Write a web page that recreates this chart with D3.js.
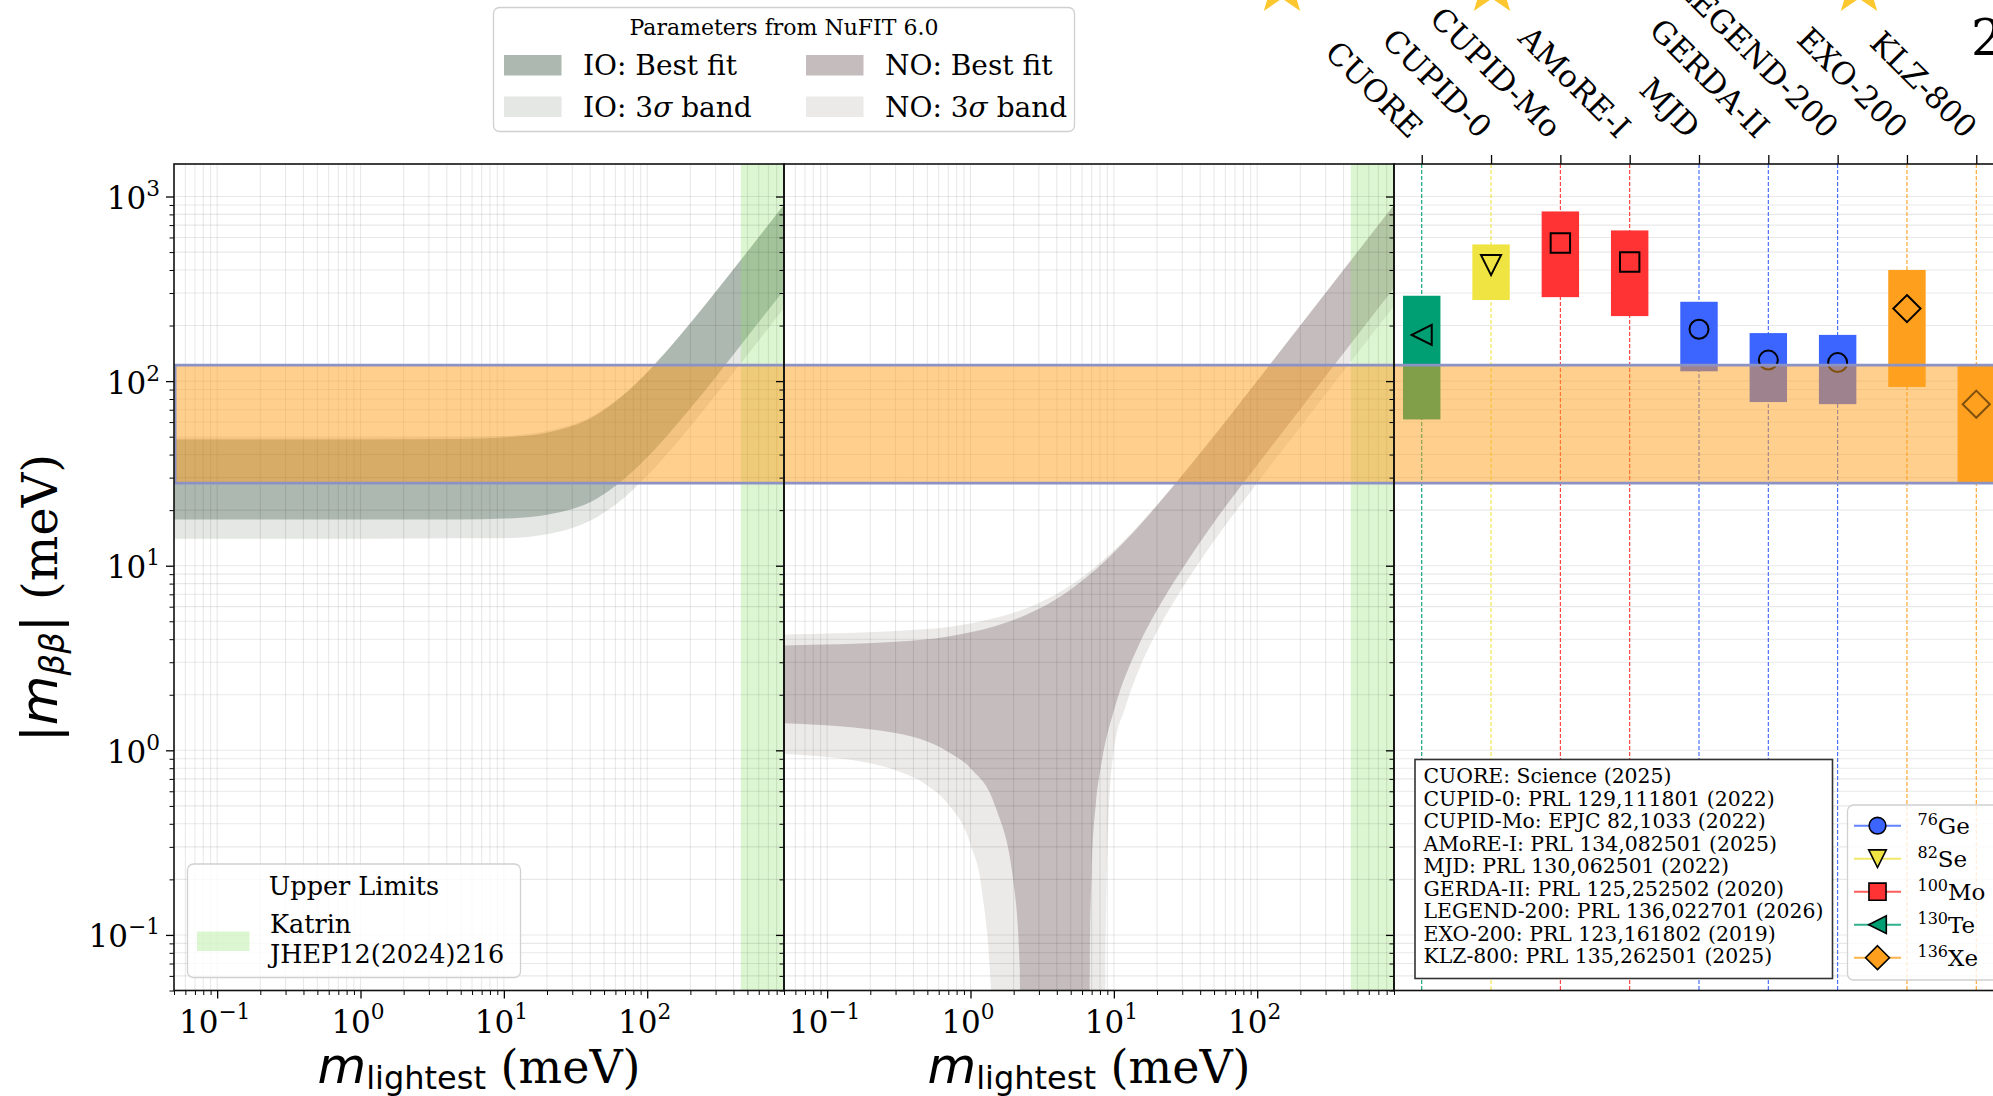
<!DOCTYPE html>
<html>
<head>
<meta charset="utf-8">
<script src="https://cdn.jsdelivr.net/npm/d3@7"></script>
<style>
  html, body { margin: 0; padding: 0; background: #fff; }
  svg { display: block; }
  text { font-family: "DejaVu Serif", serif; fill: #000; }
</style>
</head>
<body>
<svg id="chart" width="1993" height="1096"></svg>
<script>
// ---------------- data ----------------
// effective Majorana mass bands, [m_lightest (meV), |m_bb| (meV)]
const ioBestHigh = [[0.05,48.3],[1,48.3],[5,48.6],[10,49.5],[20,52.5],[30,57.1],[40,62.8],[50,69.8],[70,85.3],[100,111.3],[150,157.7],[200,205.9],[300,303.9],[500,502.4],[700,701.7],[900,901.3]];
const ioBestLow  = [[0.05,17.8],[1,17.8],[5,17.8],[10,18.0],[20,18.9],[30,20.3],[40,22.1],[50,24.5],[70,29.8],[100,38.7],[150,54.7],[200,71.3],[300,105],[500,174],[700,243],[900,312]];
const io3sHigh   = [[0.05,49.5],[1,49.5],[5,49.8],[10,50.5],[20,53.6],[30,58.2],[40,63.8],[50,70.8],[70,86.2],[100,112.2],[150,158.6],[200,206.8],[300,304.8],[500,503.2],[700,702.5],[900,902]];
const io3sLow    = [[0.05,14.0],[1,14.0],[5,14.1],[10,14.1],[20,14.8],[30,16.0],[40,17.5],[50,19.4],[70,23.6],[100,30.7],[150,43.6],[200,56.8],[300,83.9],[500,138.6],[700,193.6],[900,248.7]];

const noBestHigh = [[0.05,3.70],[0.3,3.87],[0.7,4.14],[1,4.36],[1.5,4.72],[2,5.08],[3,5.84],[5,7.44],[7,9.13],[10,11.8],[15,16.4],[20,21.2],[30,30.9],[50,50.4],[100,100.2],[200,200.1],[500,500.1],[900,900.1]];
const noBestLow  = [[0.05,1.40],[0.3,1.24],[0.7,0.98],[1,0.80],[1.5,0.49],[2,0.19],[2.2,0.07],[2.3,0.001],[6.6,0.001],[6.8,0.07],[7,0.22],[7.5,0.52],[8,0.76],[8.5,1.0],[10,1.64],[15,3.75],[20,5.75],[30,9.6],[50,17.2],[100,35.1],[200,70.7],[500,177],[900,319]];
const no3sHigh   = [[0.05,4.24],[0.5,4.54],[1,4.87],[2,5.56],[3,6.28],[5,7.83],[10,12.1],[20,21.4],[50,50.7],[100,100.4],[200,200.5],[500,500.3],[900,900.2]];
const no3sLow    = [[0.05,0.955],[0.1,0.92],[0.2,0.85],[0.3,0.78],[0.5,0.645],[0.7,0.51],[1,0.31],[1.2,0.175],[1.4,0.045],[1.45,0.001],[8.6,0.001],[8.75,0.06],[9.2,0.45],[10,1.0],[12,1.7],[15,2.75],[20,4.4],[30,7.55],[50,13.6],[100,28.1],[200,56.5],[500,141.7],[900,255]];

// KATRIN upper limit on the lightest mass (meV)
const katrinLimit = 450;
// KamLAND-Zen 800 range on |m_bb| (meV)
const klzRange = [28, 122];

// experimental limits on |m_bb| (meV)
const experiments = ["CUORE", "CUPID-0", "CUPID-Mo", "AMoRE-I", "MJD", "GERDA-II", "LEGEND-200", "EXO-200", "KLZ-800"];
const expIsotope  = ["Te", "Se", "Mo", "Mo", "Ge", "Ge", "Ge", "Xe", "Xe"];
const limitLow    = [62, 275, 285, 225, 113, 77, 75, 93, 28];
const limitHigh   = [290, 550, 830, 655, 269, 182, 178, 400, 122];
const limitMark   = [178, 425, 560, 442, 191, 130, 126, 247, 75];

const references = [
  "CUORE: Science (2025)",
  "CUPID-0: PRL 129,111801 (2022)",
  "CUPID-Mo: EPJC 82,1033 (2022)",
  "AMoRE-I: PRL 134,082501 (2025)",
  "MJD: PRL 130,062501 (2022)",
  "GERDA-II: PRL 125,252502 (2020)",
  "LEGEND-200: PRL 136,022701 (2026)",
  "EXO-200: PRL 123,161802 (2019)",
  "KLZ-800: PRL 135,262501 (2025)"
];

const isotopeKeys   = ["Ge", "Se", "Mo", "Te", "Xe"];
const isotopeMasses = ["76", "82", "100", "130", "136"];

// ---------------- styles ----------------
const isoColor = { Ge: "#3c64ff", Se: "#f0e442", Mo: "#ff3333", Te: "#009e73", Xe: "#fea01e" };
const isoShape = { Ge: "circle", Se: "down", Mo: "square", Te: "left", Xe: "diamond" };
const C = {
  ioBest: "#adb8b0", io3s: "#e5e7e4",
  noBest: "#c4bcbd", no3s: "#ebeae9",
  katrin: "#8ee26b", klz: "#ffa01e", klzEdge: "#8c93c4",
  grid: "#000"
};

// ---------------- geometry ----------------
const W = 1993, H = 1096;
const TOP = 164, BOTTOM = 990.5;
const panelX = [[174, 784], [784, 1394], [1394, 2004]];
const TICK_FONT = 31;

const y = d3.scaleLog().domain([0.05, 1500]).range([BOTTOM, TOP]);
const xIO = d3.scaleLog().domain([0.05, 900]).range(panelX[0]);
const xNO = d3.scaleLog().domain([0.05, 900]).range(panelX[1]);
const xExp = d3.scaleLinear().domain([-0.4, 8.4]).range(panelX[2]);

const svg = d3.select("#chart");
const defs = svg.append("defs");
panelX.forEach((p, i) => {
  defs.append("clipPath").attr("id", "clip" + i)
    .append("rect").attr("x", p[0]).attr("y", TOP).attr("width", p[1] - p[0]).attr("height", BOTTOM - TOP);
});

function logValues(lo, hi) {
  const out = [];
  for (let e = -3; e <= 4; e++) for (let k = 1; k <= 9; k++) {
    const v = +(k * Math.pow(10, e)).toPrecision(3);
    if (v >= lo * 0.9999 && v <= hi * 1.0001) out.push(v);
  }
  return out;
}
const isMajor = v => Math.abs(Math.log10(v) - Math.round(Math.log10(v))) < 1e-9;

const yAll = logValues(0.05, 1500);
const xAll = logValues(0.05, 900);

function bandPath(x, upper, lower) {
  const line = d3.line().x(d => x(d[0])).y(d => y(d[1])).curve(d3.curveMonotoneX);
  const up = line(upper);
  const lo = line(lower.slice().reverse());
  return up + "L" + lo.slice(1) + "Z";
}

// ---------------- mass panels ----------------
function massPanel(i, x, best, sig3) {
  const g = svg.append("g").attr("clip-path", `url(#clip${i})`);
  g.append("path").attr("d", bandPath(x, sig3[0], sig3[1])).attr("fill", sig3[2]);
  g.append("path").attr("d", bandPath(x, best[0], best[1])).attr("fill", best[2]);
  // KATRIN excluded region
  g.append("rect")
    .attr("x", x(katrinLimit)).attr("y", TOP)
    .attr("width", x.range()[1] - x(katrinLimit)).attr("height", BOTTOM - TOP)
    .attr("fill", C.katrin).attr("fill-opacity", 0.3);
  // grid
  g.selectAll(".gx").data(xAll).join("line")
    .attr("x1", d => x(d)).attr("x2", d => x(d)).attr("y1", TOP).attr("y2", BOTTOM)
    .attr("stroke", C.grid).attr("stroke-opacity", 0.09).attr("stroke-width", 1.1);
  g.selectAll(".gy").data(yAll).join("line")
    .attr("x1", x.range()[0]).attr("x2", x.range()[1]).attr("y1", d => y(d)).attr("y2", d => y(d))
    .attr("stroke", C.grid).attr("stroke-opacity", 0.09).attr("stroke-width", 1.1);
}
massPanel(0, xIO, [ioBestHigh, ioBestLow, C.ioBest], [io3sHigh, io3sLow, C.io3s]);
massPanel(1, xNO, [noBestHigh, noBestLow, C.noBest], [no3sHigh, no3sLow, C.no3s]);

// ---------------- experiment panel ----------------
function markerPath(shape, s) {
  switch (shape) {
    case "circle": return d3.symbol(d3.symbolCircle, Math.PI * s * s)();
    case "square": return `M${-s},${-s}H${s}V${s}H${-s}Z`;
    case "down": return `M${-s},${-s}L${s},${-s}L0,${s}Z`;
    case "left": return `M${-s},0L${s},${-s}L${s},${s}Z`;
    case "diamond": { const d = s * 1.414; return `M0,${-d}L${d},0L0,${d}L${-d},0Z`; }
  }
}
const markerSize = { circle: 9.5, square: 9.7, down: 10, left: 10, diamond: 9.6 };

const gE = svg.append("g").attr("clip-path", "url(#clip2)");
gE.selectAll(".gy").data(yAll).join("line")
  .attr("x1", panelX[2][0]).attr("x2", panelX[2][1]).attr("y1", d => y(d)).attr("y2", d => y(d))
  .attr("stroke", C.grid).attr("stroke-opacity", 0.09).attr("stroke-width", 1.1);
gE.selectAll(".vl").data(experiments).join("line")
  .attr("x1", (d, i) => xExp(i)).attr("x2", (d, i) => xExp(i)).attr("y1", TOP).attr("y2", BOTTOM)
  .attr("stroke", (d, i) => isoColor[expIsotope[i]]).attr("stroke-width", 1.1)
  .attr("stroke-dasharray", "4,2");
const BAR_W = 0.54;
gE.selectAll(".bar").data(experiments).join("rect")
  .attr("x", (d, i) => xExp(i - BAR_W / 2)).attr("width", xExp(BAR_W) - xExp(0))
  .attr("y", (d, i) => y(limitHigh[i])).attr("height", (d, i) => y(limitLow[i]) - y(limitHigh[i]))
  .attr("fill", (d, i) => isoColor[expIsotope[i]]);
gE.selectAll(".mk").data(experiments).join("path")
  .attr("transform", (d, i) => `translate(${xExp(i)},${y(limitMark[i])})`)
  .attr("d", (d, i) => { const sh = isoShape[expIsotope[i]]; return markerPath(sh, markerSize[sh]); })
  .attr("fill", "none").attr("stroke", "#000").attr("stroke-width", 2);

// ---------------- KamLAND-Zen band across all panels ----------------
const gK = svg.append("g");
panelX.forEach((p, i) => {
  gK.append("rect").attr("clip-path", `url(#clip${i})`)
    .attr("x", p[0]).attr("width", p[1] - p[0])
    .attr("y", y(klzRange[1])).attr("height", y(klzRange[0]) - y(klzRange[1]))
    .attr("fill", C.klz).attr("fill-opacity", 0.5);
});
[klzRange[0], klzRange[1]].forEach(v => {
  gK.append("line").attr("x1", 174).attr("x2", W).attr("y1", y(v)).attr("y2", y(v))
    .attr("stroke", C.klzEdge).attr("stroke-width", 2.6);
});
gK.append("line").attr("x1", 175.5).attr("x2", 175.5).attr("y1", y(klzRange[1])).attr("y2", y(klzRange[0]))
  .attr("stroke", C.klzEdge).attr("stroke-width", 2);

// ---------------- axes ----------------
function styleAxis(g) {
  g.select(".domain").remove();
  g.selectAll(".tick line").attr("stroke", "#000").attr("stroke-width", 1.3);
}
function supLabel(sel, fs) {
  sel.each(function (d) {
    const t = d3.select(this);
    const e = Math.round(Math.log10(d));
    t.text(null).attr("font-size", fs).attr("font-family", "DejaVu Serif");
    t.append("tspan").text("10");
    t.append("tspan").text(e < 0 ? "\u2212" + (-e) : String(e))
      .attr("font-size", fs * 0.7).attr("dy", -fs * 0.42);
  });
}
const yMajor = yAll.filter(isMajor), yMinor = yAll.filter(v => !isMajor(v));
const xMajor = xAll.filter(isMajor), xMinor = xAll.filter(v => !isMajor(v));

panelX.forEach((p, i) => {
  // minor y ticks
  svg.append("g").attr("transform", `translate(${p[0]},0)`)
    .call(d3.axisLeft(y).tickValues(yMinor).tickSize(4.5).tickFormat("")).call(styleAxis)
    .selectAll(".tick line").attr("stroke-width", 1);
  const gy = svg.append("g").attr("transform", `translate(${p[0]},0)`)
    .call(d3.axisLeft(y).tickValues(yMajor).tickSize(8).tickPadding(6)
      .tickFormat(i === 0 ? (d => d) : "")).call(styleAxis);
  if (i === 0) {
    gy.selectAll(".tick text").attr("dy", null).attr("y", 12).call(supLabel, TICK_FONT)
      .attr("text-anchor", "end");
  }
});
[xIO, xNO].forEach((x, i) => {
  svg.append("g").attr("transform", `translate(0,${BOTTOM})`)
    .call(d3.axisBottom(x).tickValues(xMinor).tickSize(4.5).tickFormat("")).call(styleAxis)
    .selectAll(".tick line").attr("stroke-width", 1);
  const gx = svg.append("g").attr("transform", `translate(0,${BOTTOM})`)
    .call(d3.axisBottom(x).tickValues(xMajor).tickSize(8).tickFormat(d => d)).call(styleAxis);
  gx.selectAll(".tick text").attr("dy", null).attr("y", 42).call(supLabel, TICK_FONT)
    .attr("text-anchor", "middle").attr("x", -3);
});
// experiment names on the top axis
const gTop = svg.append("g").attr("transform", `translate(0,${TOP})`)
  .call(d3.axisTop(xExp).tickValues(d3.range(experiments.length)).tickSize(9)
    .tickFormat(i => experiments[i])).call(styleAxis);
gTop.selectAll(".tick text")
  .attr("x", 0).attr("y", 0).attr("dy", null)
  .attr("text-anchor", "end").attr("font-size", 31).attr("font-family", "DejaVu Serif")
  .attr("transform", "translate(-13,-24) rotate(45)");

// spines
panelX.forEach(p => {
  svg.append("rect").attr("x", p[0]).attr("y", TOP).attr("width", p[1] - p[0]).attr("height", BOTTOM - TOP)
    .attr("fill", "none").attr("stroke", "#111").attr("stroke-width", 1.6);
});

// axis titles
function xTitle(cx) {
  const t = svg.append("text").attr("x", cx).attr("y", 1083).attr("text-anchor", "middle");
  t.append("tspan").text("m").attr("font-family", "DejaVu Sans").attr("font-style", "italic").attr("font-size", 50);
  t.append("tspan").text("lightest").attr("font-family", "DejaVu Sans").attr("font-size", 32).attr("dy", 6);
  t.append("tspan").text("\u00a0(meV)").attr("font-size", 46).attr("dy", -6);
}
xTitle((panelX[0][0] + panelX[0][1]) / 2);
xTitle((panelX[1][0] + panelX[1][1]) / 2);

const yt = svg.append("text").attr("transform", "translate(57,598) rotate(-90)").attr("text-anchor", "middle");
yt.append("tspan").text("|").attr("font-family", "DejaVu Sans").attr("font-size", 50);
yt.append("tspan").text("m").attr("font-family", "DejaVu Sans").attr("font-style", "italic").attr("font-size", 51);
yt.append("tspan").text("\u03b2\u03b2").attr("font-family", "DejaVu Sans").attr("font-style", "italic").attr("font-size", 34).attr("dy", 7);
yt.append("tspan").text("|").attr("font-family", "DejaVu Sans").attr("font-size", 50).attr("dy", -7);
yt.append("tspan").text("\u00a0(meV)").attr("font-size", 48);

// ---------------- legends ----------------
// NuFIT parameter bands
const lg = svg.append("g");
lg.append("rect").attr("x", 493.5).attr("y", 7.5).attr("width", 581).attr("height", 124).attr("rx", 6)
  .attr("fill", "#fff").attr("fill-opacity", 0.8).attr("stroke", "#d0d0d0").attr("stroke-width", 1.3);
lg.append("text").attr("x", 784).attr("y", 35).attr("text-anchor", "middle").attr("font-size", 22)
  .text("Parameters from NuFIT 6.0");
const nufitItems = [
  { label: "IO: Best fit", color: C.ioBest, col: 0, row: 0 },
  { label: "IO: 3\u03c3 band", color: C.io3s, col: 0, row: 1 },
  { label: "NO: Best fit", color: C.noBest, col: 1, row: 0 },
  { label: "NO: 3\u03c3 band", color: C.no3s, col: 1, row: 1 }
];
nufitItems.forEach(it => {
  const sx = it.col === 0 ? 504 : 806, tx = it.col === 0 ? 583 : 885;
  const sy = it.row === 0 ? 55 : 96.5;
  lg.append("rect").attr("x", sx).attr("y", sy).attr("width", 57.5).attr("height", 20.5).attr("fill", it.color);
  const t = lg.append("text").attr("x", tx).attr("y", sy + 20).attr("font-size", 28);
  const parts = it.label.split("\u03c3");
  t.append("tspan").text(parts[0]);
  if (parts.length > 1) {
    t.append("tspan").text("\u03c3").attr("font-family", "DejaVu Serif").attr("font-style", "italic");
    t.append("tspan").text(parts[1]);
  }
});

// upper limits legend
const lu = svg.append("g");
lu.append("rect").attr("x", 187.5).attr("y", 864).attr("width", 333).attr("height", 113.5).attr("rx", 6)
  .attr("fill", "#fff").attr("fill-opacity", 0.8).attr("stroke", "#d0d0d0").attr("stroke-width", 1.3);
lu.append("text").attr("x", 354).attr("y", 894.5).attr("text-anchor", "middle").attr("font-size", 25.5).text("Upper Limits");
lu.append("rect").attr("x", 197).attr("y", 931.5).attr("width", 52.5).attr("height", 19.5)
  .attr("fill", C.katrin).attr("fill-opacity", 0.3);
lu.append("text").attr("x", 270).attr("y", 932.5).attr("font-size", 25.5).text("Katrin");
lu.append("text").attr("x", 270).attr("y", 962.5).attr("font-size", 25.5).text("JHEP12(2024)216");

// references box
const rb = svg.append("g");
rb.append("rect").attr("x", 1415).attr("y", 759.5).attr("width", 417.5).attr("height", 219)
  .attr("fill", "#fff").attr("stroke", "#333").attr("stroke-width", 1.6);
rb.selectAll("text").data(references).join("text")
  .attr("x", 1423.5).attr("y", (d, i) => 783.3 + 22.5 * i).attr("font-size", 20.4).text(d => d);

// isotope legend
const li = svg.append("g");
li.append("rect").attr("x", 1847.5).attr("y", 805).attr("width", 170).attr("height", 175).attr("rx", 6)
  .attr("fill", "#fff").attr("fill-opacity", 0.8).attr("stroke", "#d0d0d0").attr("stroke-width", 1.3);
isotopeKeys.forEach((k, i) => {
  const cy = 825.7 + 33 * i;
  li.append("line").attr("x1", 1854).attr("x2", 1901).attr("y1", cy).attr("y2", cy)
    .attr("stroke", isoColor[k]).attr("stroke-width", 2).attr("stroke-opacity", 0.8);
  const sh = isoShape[k];
  li.append("path").attr("transform", `translate(1877.5,${cy})`).attr("d", markerPath(sh, markerSize[sh] * 0.88))
    .attr("fill", isoColor[k]).attr("stroke", "#000").attr("stroke-width", 1.6);
  const t = li.append("text").attr("x", 1917.5).attr("y", cy + 8).attr("font-size", 23);
  t.append("tspan").text(isotopeMasses[i]).attr("font-size", 16).attr("dy", -9);
  t.append("tspan").text(k).attr("dy", 9);
});

// highlight stars and page heading
function starPath(R, r) {
  let d = "";
  for (let j = 0; j < 10; j++) {
    const a = -Math.PI / 2 + j * Math.PI / 5, rr = j % 2 ? r : R;
    d += (j ? "L" : "M") + (rr * Math.cos(a)).toFixed(2) + "," + (rr * Math.sin(a)).toFixed(2);
  }
  return d + "Z";
}
[1282, 1492, 1859].forEach(cx => {
  svg.append("path").attr("transform", `translate(${cx},-14)`).attr("d", starPath(31, 12.5)).attr("fill", "#fdc82f");
});
svg.append("text").attr("x", 1971).attr("y", 55).attr("font-family", "DejaVu Sans").attr("font-size", 50)
  .attr("fill", "#333").text("2");
</script>
</body>
</html>
